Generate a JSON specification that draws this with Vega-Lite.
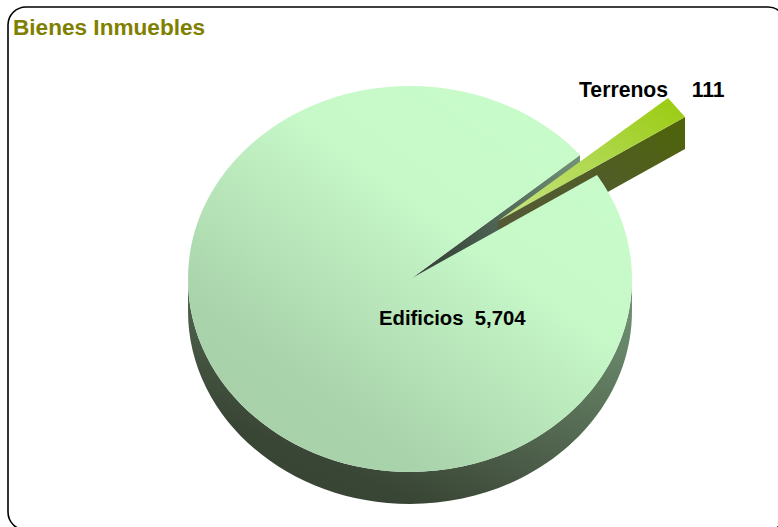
{
  "$schema": "https://vega.github.io/schema/vega-lite/v6.json",
  "width": 778,
  "height": 527,
  "padding": 0,
  "autosize": "none",
  "background": "#ffffff",
  "config": {"view": {"stroke": null}},
  "title": {
    "text": "Bienes Inmuebles",
    "anchor": "start",
    "frame": "group",
    "orient": "top",
    "offset": -58,
    "dx": 13,
    "font": "Liberation Sans",
    "fontSize": 22.6,
    "fontWeight": "bold",
    "color": "#808000",
    "baseline": "alphabetic"
  },
  "data": {
    "values": [
      {"parte": "Edificios", "valor": 5704, "etiqueta": "Edificios\u00a0\u00a05,704"},
      {"parte": "Terrenos", "valor": 111, "etiqueta": "Terrenos\u00a0\u00a0\u00a0\u00a0111"}
    ]
  },
  "layer": [
    {
      "description": "Rounded outer frame",
      "data": {"values": [{"marco": "Bienes Inmuebles"}]},
      "mark": {
        "type": "point", "size": 4, "filled": false, "opacity": 1, "stroke": "#000000", "strokeWidth": 1.6, "fill": null,
        "shape": "M -363,-256.5 L 379,-256.5 A 18 18 0 0 1 397,-238.5 L 397,248.5 A 18 18 0 0 1 379,266.5 L -363,266.5 A 18 18 0 0 1 -381,248.5 L -381,-238.5 A 18 18 0 0 1 -363,-256.5 Z"
      }
    },
    {
      "description": "Edificios: curved outer side of the disc",
      "transform": [{"filter": "datum.parte === 'Edificios'"}],
      "mark": {
        "type": "point", "size": 4, "filled": true, "opacity": 1,
        "shape": "M -201,15.5 A 222 193 0 0 0 243,15.5 L 243,47.5 A 222 193 0 0 1 -201,47.5 Z",
        "fill": {
          "gradient": "linear", "x1": 1, "y1": 0.1, "x2": 0.25, "y2": 1,
          "stops": [
            {"offset": 0, "color": "#6f9272"},
            {"offset": 0.5, "color": "#52664f"},
            {"offset": 0.85, "color": "#394535"},
            {"offset": 1, "color": "#384433"}
          ]
        }
      }
    },
    {
      "description": "Edificios: inner wall seen through the gap",
      "transform": [{"filter": "datum.parte === 'Edificios'"}],
      "mark": {
        "type": "point", "size": 4, "filled": true, "opacity": 1,
        "shape": "M 23,14.5 L 191,-108.6 L 191,-75.5 L 23,47.5 Z",
        "fill": {
          "gradient": "linear", "x1": 1, "y1": 0, "x2": 0, "y2": 1,
          "stops": [
            {"offset": 0, "color": "#72947a"},
            {"offset": 0.7, "color": "#3c4c40"},
            {"offset": 1, "color": "#2f3a30"}
          ]
        }
      }
    },
    {
      "description": "Terrenos: side wall of the pulled-out slice",
      "transform": [{"filter": "datum.parte === 'Terrenos'"}],
      "mark": {
        "type": "point", "size": 4, "filled": true, "opacity": 1,
        "shape": "M 109,-42.5 L 296,-146.5 L 296,-114.5 L 109,-10.5 Z",
        "fill": {
          "gradient": "linear", "x1": 1, "y1": 0, "x2": 0, "y2": 1,
          "stops": [
            {"offset": 0, "color": "#4e6408"},
            {"offset": 0.5, "color": "#515c2a"},
            {"offset": 1, "color": "#55583a"}
          ]
        }
      }
    },
    {
      "description": "Terrenos: top face of the slice",
      "transform": [{"filter": "datum.parte === 'Terrenos'"}],
      "mark": {
        "type": "point", "size": 4, "filled": true, "opacity": 1,
        "shape": "M 109,-42.5 L 279,-165.5 L 296,-146.5 Z",
        "fill": {
          "gradient": "linear", "x1": 1, "y1": 0, "x2": 0, "y2": 1,
          "stops": [
            {"offset": 0, "color": "#9acb0e"},
            {"offset": 0.5, "color": "#b0d84e"},
            {"offset": 1, "color": "#c8e484"}
          ]
        }
      }
    },
    {
      "description": "Edificios: top face of the disc, arc split at the axis ends so the ellipse centre stays fixed",
      "transform": [{"filter": "datum.parte === 'Edificios'"}],
      "mark": {
        "type": "point", "size": 4, "filled": true, "opacity": 1,
        "shape": "M 23,14.5 L 208,-88.52 A 222 193 0 0 1 21,208.5 A 222 193 0 0 1 -201,15.5 A 222 193 0 0 1 21,-177.5 A 222 193 0 0 1 191,-108.6 Z",
        "fill": {
          "gradient": "linear", "x1": 0.95, "y1": 0.05, "x2": 0.2, "y2": 0.95,
          "stops": [
            {"offset": 0, "color": "#c9fccb"},
            {"offset": 0.4, "color": "#c6f8c8"},
            {"offset": 0.85, "color": "#a9d3ab"},
            {"offset": 1, "color": "#a8d1aa"}
          ]
        }
      }
    },
    {
      "description": "Terrenos label",
      "transform": [{"filter": "datum.parte === 'Terrenos'"}],
      "mark": {
        "type": "text", "align": "left", "baseline": "alphabetic", "dx": 190, "dy": -166.5,
        "font": "Liberation Sans", "fontSize": 21.2, "fontWeight": "bold", "color": "#000000"
      },
      "encoding": {"text": {"field": "etiqueta"}}
    },
    {
      "description": "Edificios label",
      "transform": [{"filter": "datum.parte === 'Edificios'"}],
      "mark": {
        "type": "text", "align": "left", "baseline": "alphabetic", "dx": -10, "dy": 61.5,
        "font": "Liberation Sans", "fontSize": 20.3, "fontWeight": "bold", "color": "#000000"
      },
      "encoding": {"text": {"field": "etiqueta"}}
    }
  ]
}
